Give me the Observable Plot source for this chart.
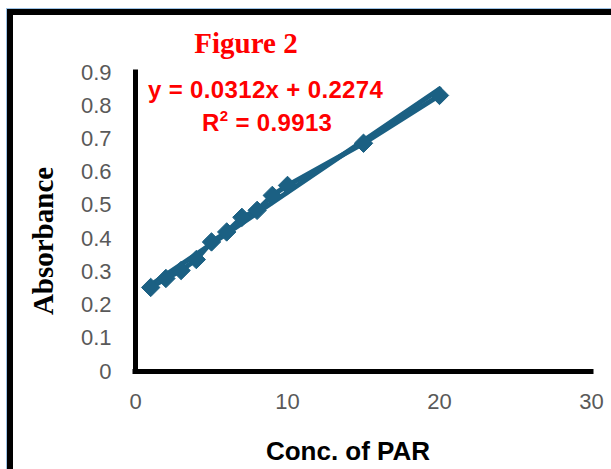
<!DOCTYPE html>
<html>
<head>
<meta charset="utf-8">
<script src="https://cdn.jsdelivr.net/npm/d3@7"></script>
<script src="https://cdn.jsdelivr.net/npm/@observablehq/plot@0.6"></script>
<style>
  html, body { margin: 0; padding: 0; background: #fff; }
  #wrap { position: relative; width: 611px; height: 469px; overflow: hidden; background: #fff; }
  #frame { position: absolute; left: 7px; top: 9px; width: 700px; height: 600px;
           border: 6px solid #000; outline: 1px solid #9dc3e6; box-sizing: border-box; }
  #chart { position: absolute; left: 0; top: 0; }
</style>
</head>
<body>
<div id="wrap"><div id="frame"></div><div id="chart"></div></div>
<script>
// Data
const conc = [1, 2, 3, 4, 5, 6, 7, 8, 9, 10, 15, 20];
const absorbance = [0.253, 0.280, 0.304, 0.337, 0.390, 0.420, 0.464, 0.485, 0.530, 0.560, 0.687, 0.831];
const xTicks = [0, 10, 20, 30];
const yTicks = [0, 0.1, 0.2, 0.3, 0.4, 0.5, 0.6, 0.7, 0.8, 0.9];
const titleText = "Figure 2";
const equationText = "y = 0.0312x + 0.2274";
const r2Value = "0.9913";
const xLabel = "Conc. of PAR";
const yLabel = "Absorbance";

const data = conc.map((x, i) => ({x, y: absorbance[i]}));
const color = "#1b6083";

const plot = Plot.plot({
  width: 611,
  height: 469,
  marginLeft: 135,
  marginRight: 20,
  marginTop: 72,
  marginBottom: 98,
  style: {fontFamily: "Liberation Sans, Arial, sans-serif", background: "transparent"},
  x: {domain: [0, 30], label: null},
  y: {domain: [0, 0.9], label: null},
  marks: [
    Plot.axisX({ticks: xTicks, tickSize: 0, tickPadding: 22, label: null, fontSize: 22, fill: "#595959"}),
    Plot.axisY({ticks: yTicks, tickSize: 0, tickPadding: 24, label: null, fontSize: 22, fill: "#595959",
                tickFormat: d => String(+d.toFixed(1))}),
    Plot.ruleX([0], {stroke: "#000", strokeWidth: 5, strokeLinecap: "square"}),
    Plot.ruleY([0], {stroke: "#000", strokeWidth: 5, strokeLinecap: "square"}),
    Plot.linearRegressionY(data, {x: "x", y: "y", ci: 0, stroke: color, strokeWidth: 5}),
    Plot.line(data, {x: "x", y: "y", stroke: color, strokeWidth: 5}),
    Plot.dot(data, {x: "x", y: "y", symbol: "diamond2", r: 8.3, fill: color, stroke: color, strokeWidth: 1})
  ]
});

document.getElementById("chart").appendChild(plot);

const svg = d3.select(plot);
svg.append("text")
  .attr("x", 246).attr("y", 53)
  .attr("text-anchor", "middle")
  .attr("font-family", "Liberation Serif, Times New Roman, serif")
  .attr("font-weight", "bold").attr("font-size", 29)
  .attr("fill", "#ff0000")
  .text(titleText);

svg.append("text")
  .attr("x", 148).attr("y", 98)
  .attr("text-anchor", "start")
  .attr("font-family", "Liberation Sans, Arial, sans-serif")
  .attr("font-weight", "bold").attr("font-size", 24)
  .attr("letter-spacing", "0.35px")
  .attr("fill", "#ff0000")
  .text(equationText);

const r2 = svg.append("text")
  .attr("x", 202).attr("y", 131)
  .attr("text-anchor", "start")
  .attr("font-family", "Liberation Sans, Arial, sans-serif")
  .attr("font-weight", "bold").attr("font-size", 24)
  .attr("letter-spacing", "0.35px")
  .attr("fill", "#ff0000");
r2.append("tspan").text("R");
r2.append("tspan").attr("font-size", 15).attr("dy", -10).text("2");
r2.append("tspan").attr("dy", 10).text(" = " + r2Value);

svg.append("text")
  .attr("transform", "translate(53,241) rotate(-90)")
  .attr("text-anchor", "middle")
  .attr("font-family", "Liberation Serif, Times New Roman, serif")
  .attr("font-weight", "bold").attr("font-size", 29)
  .attr("fill", "#000")
  .text(yLabel);

svg.append("text")
  .attr("x", 348).attr("y", 460)
  .attr("text-anchor", "middle")
  .attr("font-family", "Liberation Sans, Arial, sans-serif")
  .attr("font-weight", "bold").attr("font-size", 26)
  .attr("fill", "#000")
  .text(xLabel);
</script>
</body>
</html>
